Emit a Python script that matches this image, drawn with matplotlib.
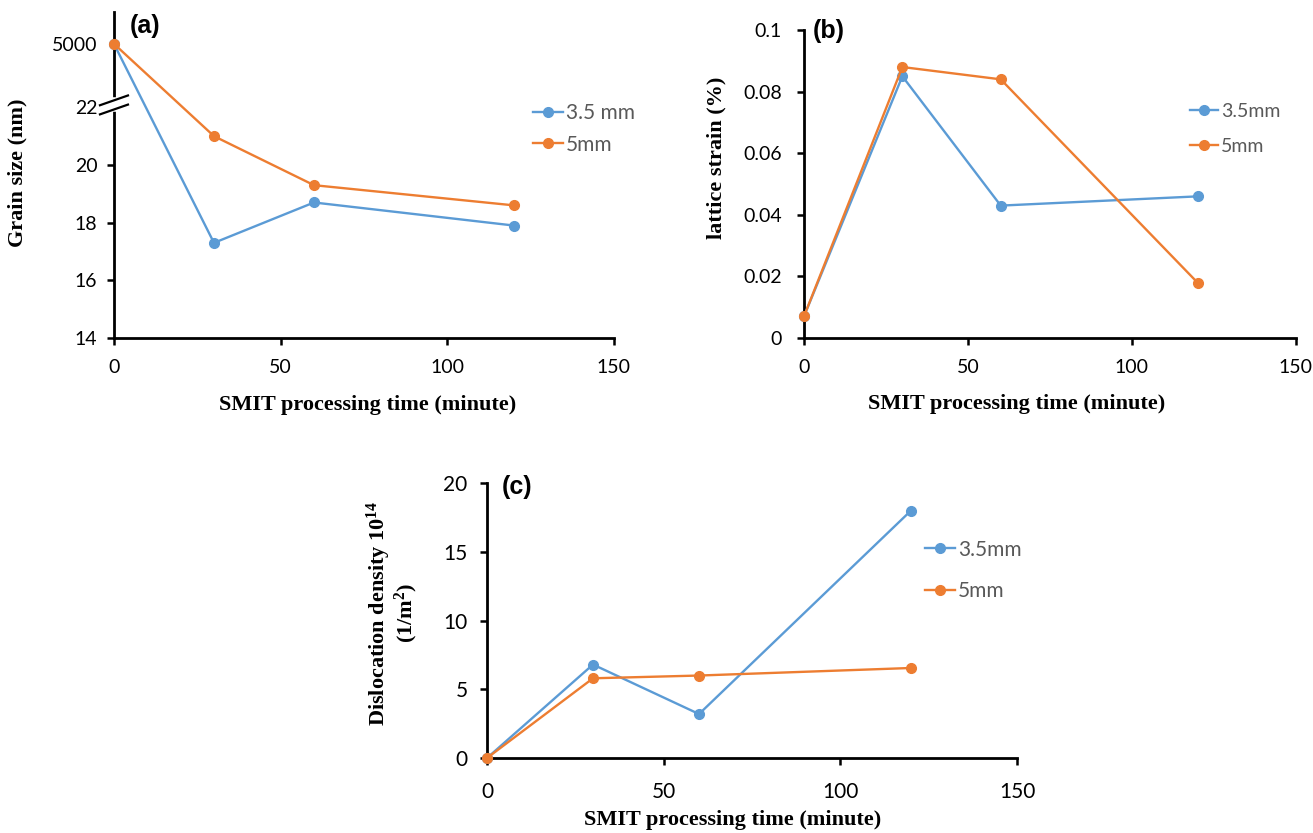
import numpy as np
import matplotlib
matplotlib.use("Agg")
import matplotlib.pyplot as plt

# data
time_min = [0, 30, 60, 120]

grain_35 = [5000, 17.3, 18.7, 17.9]
grain_5 = [5000, 21.0, 19.3, 18.6]

strain_35 = [0.007, 0.085, 0.043, 0.046]
strain_5 = [0.007, 0.088, 0.084, 0.018]

disloc_35 = [0, 6.8, 3.2, 18.0]
disloc_5 = [0, 5.8, 6.0, 6.55]

grain_ticks = [14, 16, 18, 20, 22, 5000]
strain_ticks = [0, 0.02, 0.04, 0.06, 0.08, 0.1]
disloc_ticks = [0, 5, 10, 15, 20]
time_ticks = [0, 50, 100, 150]

BLUE = "#5B9BD5"
ORANGE = "#ED7D31"
TICK_FONT = "Lato"
LABEL_FONT = "Liberation Serif"
XLABEL = "SMIT processing time (minute)"

# superscripts in the bold serif labels
plt.rcParams["mathtext.fontset"] = "custom"
plt.rcParams["mathtext.rm"] = "Liberation Serif:bold"
plt.rcParams["mathtext.it"] = "Liberation Serif:bold"
plt.rcParams["mathtext.bf"] = "Liberation Serif:bold"
plt.rcParams["mathtext.default"] = "rm"

# broken y axis for panel (a): everything above 22 squeezed into a short band
BREAK = 22.0
SQUEEZE = 2.2 / (5000 - BREAK)


def fwd(v):
    v = np.asarray(v, dtype=float)
    return np.where(v <= BREAK, v, BREAK + (v - BREAK) * SQUEEZE)


def inv(u):
    u = np.asarray(u, dtype=float)
    return np.where(u <= BREAK, u, BREAK + (u - BREAK) / SQUEEZE)


def style_axis(ax, tick_size, xpad, ypad):
    for side in ["top", "right"]:
        ax.spines[side].set_visible(False)
    for side in ["left", "bottom"]:
        ax.spines[side].set_linewidth(2.0)
        ax.spines[side].set_color("black")
    ax.tick_params(direction="out", length=5, width=1.8, labelsize=tick_size,
                   colors="black")
    ax.tick_params(axis="x", pad=xpad)
    ax.tick_params(axis="y", pad=ypad)
    for lab in ax.get_xticklabels() + ax.get_yticklabels():
        lab.set_fontfamily(TICK_FONT)


def set_labels(ax, ylabel, ycoords, xcoords):
    ax.set_ylabel(ylabel, fontfamily=LABEL_FONT, fontweight="bold",
                  fontsize=16, linespacing=1.0, va="center")
    ax.yaxis.set_label_coords(*ycoords)
    ax.set_xlabel(XLABEL, fontfamily=LABEL_FONT, fontweight="bold",
                  fontsize=16, va="center")
    ax.xaxis.set_label_coords(*xcoords)


def draw_series(ax, y35, y5, lab35, lab5):
    ax.plot(time_min, y35, color=BLUE, lw=1.7, marker="o", ms=7,
            label=lab35, clip_on=False, zorder=3)
    ax.plot(time_min, y5, color=ORANGE, lw=1.7, marker="o", ms=7,
            label=lab5, clip_on=False, zorder=4)


def add_legend(ax, x, y, size, spacing):
    leg = ax.legend(loc="upper left", bbox_to_anchor=(x, y), frameon=False,
                    borderpad=0, borderaxespad=0, handlelength=1.45,
                    handletextpad=0.15, labelspacing=spacing,
                    prop={"family": TICK_FONT, "size": size})
    for t in leg.get_texts():
        t.set_color("#595959")


def panel_tag(ax, x, y, tag):
    ax.text(x, y, tag, transform=ax.transAxes, fontsize=18,
            fontweight="bold", fontfamily="Liberation Sans", va="top")


fig = plt.figure(figsize=(13.13, 8.33), dpi=100)

ax_a = fig.add_axes([0.0868, 0.5942, 0.3808, 0.3914])
ax_b = fig.add_axes([0.6123, 0.5942, 0.3747, 0.3697])
ax_c = fig.add_axes([0.3709, 0.0900, 0.4037, 0.3301])

# (a) grain size
ax_a.set_yscale("function", functions=(fwd, inv))
draw_series(ax_a, grain_35, grain_5, "3.5 mm", "5mm")
ax_a.set_xlim(0, 150)
ax_a.set_ylim(14, 7500)
ax_a.set_xticks(time_ticks)
ax_a.set_yticks(grain_ticks)
ax_a.set_yticklabels([str(t) for t in grain_ticks])
ax_a.yaxis.set_minor_locator(matplotlib.ticker.NullLocator())
style_axis(ax_a, 14, 10, 7)
for tk in ax_a.yaxis.get_major_ticks()[-2:]:
    tk.tick1line.set_visible(False)
# break marks on the y axis near 22
yc = 0.715
ax_a.plot([0, 0], [yc - 0.014, yc + 0.014], transform=ax_a.transAxes,
          color="white", lw=4, clip_on=False, zorder=5)
for dy in (-0.014, 0.014):
    ax_a.plot([-0.028, 0.028], [yc + dy - 0.015, yc + dy + 0.015],
              transform=ax_a.transAxes, color="black", lw=1.6,
              clip_on=False, zorder=6)
set_labels(ax_a, "Grain size (nm)", (-0.192, 0.506), (0.508, -0.206))
panel_tag(ax_a, 0.032, 0.993, "(a)")
add_legend(ax_a, 0.838, 0.72, 15, 0.54)

# (b) lattice strain
draw_series(ax_b, strain_35, strain_5, "3.5mm", "5mm")
ax_b.set_xlim(0, 150)
ax_b.set_ylim(0, 0.1)
ax_b.set_xticks(time_ticks)
ax_b.set_yticks(strain_ticks)
ax_b.set_yticklabels(["0", "0.02", "0.04", "0.06", "0.08", "0.1"])
style_axis(ax_b, 14, 10, 11)
set_labels(ax_b, "lattice strain (%)", (-0.177, 0.584), (0.433, -0.214))
panel_tag(ax_b, 0.018, 1.036, "(b)")
add_legend(ax_b, 0.785, 0.763, 14, 0.9)

# (c) dislocation density
draw_series(ax_c, disloc_35, disloc_5, "3.5mm", "5mm")
ax_c.set_xlim(0, 150)
ax_c.set_ylim(0, 20)
ax_c.set_xticks(time_ticks)
ax_c.set_yticks(disloc_ticks)
style_axis(ax_c, 15, 12.5, 9)
set_labels(ax_c, "Dislocation density 10$^{14}$\n(1/m$^{2}$)",
           (-0.179, 0.527), (0.464, -0.225))
panel_tag(ax_c, 0.028, 1.03, "(c)")
add_legend(ax_c, 0.826, 0.794, 15, 1.02)

fig.savefig("out.png", dpi=100)
